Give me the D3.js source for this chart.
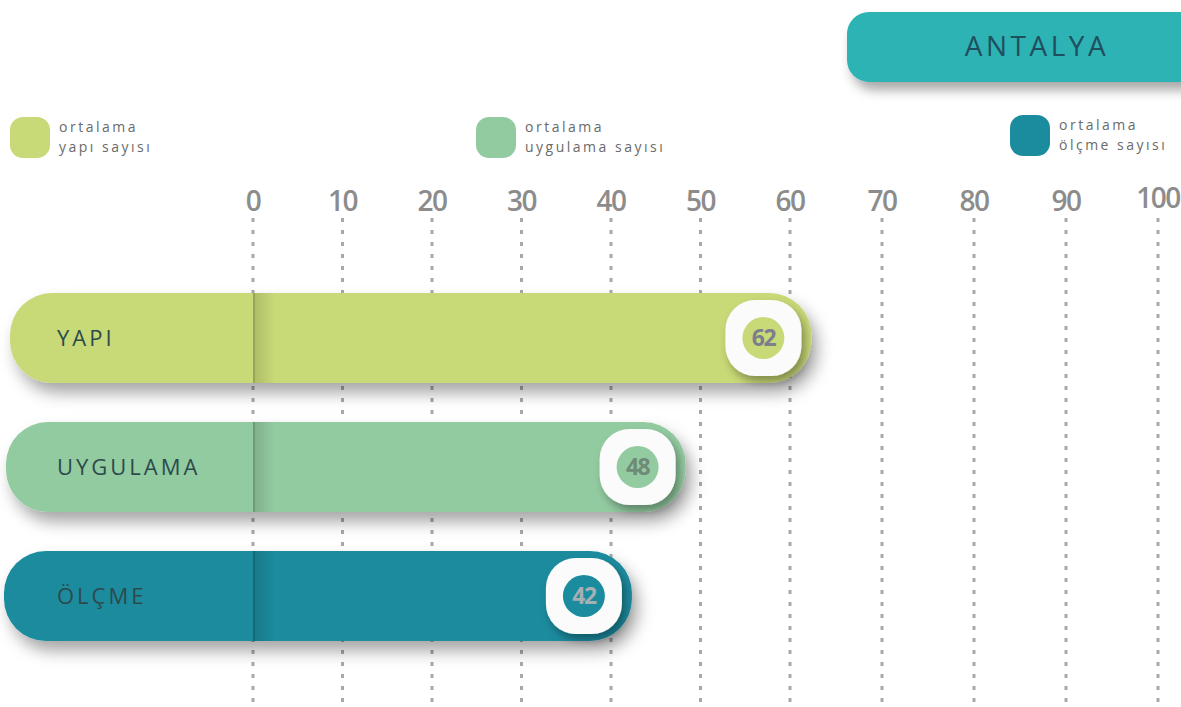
<!DOCTYPE html>
<html><head><meta charset="utf-8">
<script src="https://cdn.jsdelivr.net/npm/d3@7"></script>
<style>
html,body{margin:0;padding:0;background:#fff;}
svg{display:block;font-family:"Open Sans","Noto Sans",sans-serif;}
</style></head>
<body><svg id="c" width="1181" height="707"></svg>
<script>
const title = "ANTALYA";
const categories = ["YAPI", "UYGULAMA", "ÖLÇME"];
const values = [62, 48, 42];
const colors = ["#c8d977", "#93cba1", "#1b8b9e"];
const numColors = ["#7b7f8c", "#6f8a76", "#a4b0b4"];
const legendLines = [["ortalama", "yapı sayısı"], ["ortalama", "uygulama sayısı"], ["ortalama", "ölçme sayısı"]];
const tickValues = [0, 10, 20, 30, 40, 50, 60, 70, 80, 90, 100];

const W = 1181, H = 707;
const svg = d3.select("#c");
const defs = svg.append("defs");
const f = defs.append("filter").attr("id","sh").attr("x","-10%").attr("y","-30%").attr("width","130%").attr("height","190%");
f.append("feDropShadow").attr("dx",6).attr("dy",10).attr("stdDeviation",8).attr("flood-color","#000").attr("flood-opacity",0.35);
const f2 = defs.append("filter").attr("id","sh2").attr("x","-50%").attr("y","-50%").attr("width","220%").attr("height","220%");
f2.append("feDropShadow").attr("dx",4).attr("dy",6).attr("stdDeviation",5).attr("flood-color","#000").attr("flood-opacity",0.35);
const f3 = defs.append("filter").attr("id","sh3").attr("x","-10%").attr("y","-30%").attr("width","130%").attr("height","180%");
f3.append("feDropShadow").attr("dx",5).attr("dy",8).attr("stdDeviation",6).attr("flood-color","#000").attr("flood-opacity",0.35);
const g = defs.append("linearGradient").attr("id","seam").attr("x1","0").attr("x2","1");
g.append("stop").attr("offset","0").attr("stop-color","#000").attr("stop-opacity",0.14);
g.append("stop").attr("offset","1").attr("stop-color","#000").attr("stop-opacity",0);

const x = d3.scaleLinear().domain([0,60,100]).range([253,790,1158]);
const y = d3.scaleBand().domain(categories).range([293,641]).paddingInner(0.302).paddingOuter(0);

// title box
svg.append("rect").attr("x",847).attr("y",12).attr("width",380).attr("height",70).attr("rx",22)
  .attr("fill","#2eb3b5").attr("filter","url(#sh3)");
svg.append("text").attr("x",1037).attr("y",56).attr("text-anchor","middle")
  .attr("font-size",28).attr("letter-spacing",3.5).attr("fill","#1f4f5e").text(title);

// legend
const legX = [10, 476, 1010], legY = [117, 117, 115];
categories.forEach((c,i)=>{
  svg.append("rect").attr("x",legX[i]).attr("y",legY[i]).attr("width",40).attr("height",41).attr("rx",13).attr("fill",colors[i]);
  legendLines[i].forEach((t,j)=>{
    svg.append("text").attr("x",legX[i]+49).attr("y",legY[i]+15+j*20)
      .attr("font-size",14).attr("letter-spacing",2.5).attr("fill","#6a6a6a").text(t);
  });
});

// axis labels and gridlines
const axis = svg.append("g");
axis.selectAll("line").data(tickValues).join("line")
  .attr("x1",d=>x(d)).attr("x2",d=>x(d)).attr("y1",218).attr("y2",H)
  .attr("stroke","#a8a8a8").attr("stroke-width",3).attr("stroke-dasharray","4 8");
axis.selectAll("text").data(tickValues).join("text")
  .attr("x",d=>x(d)).attr("y",d=>d===100?208:211).attr("text-anchor","middle")
  .attr("font-size",28).attr("font-weight",600).attr("letter-spacing",-1.5)
  .attr("fill","#8c8c8c").text(d=>d);

// bars
const lefts = [10, 6, 4];
categories.forEach((c,i)=>{
  const gb = svg.append("g");
  const yy = y(c), h = y.bandwidth();
  const xe = x(values[i]) + 3;
  const left = lefts[i];
  gb.append("rect").attr("x",left).attr("y",yy).attr("width",xe-left).attr("height",h).attr("rx",42)
    .attr("fill",colors[i]).attr("filter","url(#sh)");
  gb.append("rect").attr("x",x(0)).attr("y",yy).attr("width",22).attr("height",h).attr("fill","url(#seam)");
  gb.append("line").attr("x1",x(0)+1).attr("x2",x(0)+1).attr("y1",yy).attr("y2",yy+h)
    .attr("stroke","#000").attr("stroke-opacity",0.12).attr("stroke-width",2);
  gb.append("text").attr("x",57).attr("y",yy+h/2+8).attr("font-size",22).attr("letter-spacing",3)
    .attr("fill","#2c4a4c").text(c);
  const cx = xe-48, cy = yy+h/2;
  gb.append("rect").attr("x",cx-38).attr("y",cy-38).attr("width",76).attr("height",76).attr("rx",30)
    .attr("fill","#fbfbfc").attr("filter","url(#sh2)");
  gb.append("circle").attr("cx",cx).attr("cy",cy).attr("r",21).attr("fill",colors[i]);
  gb.append("text").attr("x",cx).attr("y",cy+8).attr("text-anchor","middle").attr("font-size",23)
    .attr("font-weight",700).attr("letter-spacing",-1.5).attr("fill",numColors[i]).text(values[i]);
});
</script></body></html>
